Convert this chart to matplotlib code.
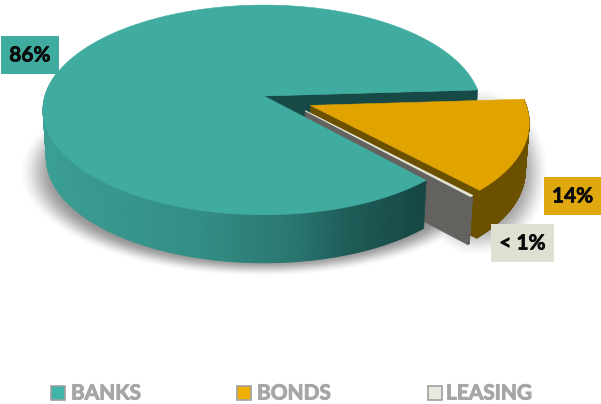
import numpy as np
import matplotlib
matplotlib.use("Agg")
import matplotlib.pyplot as plt
from matplotlib.patches import Polygon, Rectangle
from matplotlib.patheffects import withStroke

# Funding mix
categories = ["BANKS", "BONDS", "LEASING"]
shares = [86, 14, 0.2]
value_labels = ["86%", "14%", "< 1%"]

TEAL, GOLD, PALE = "#3fac9f", "#e0a300", "#e6e6d8"
BROWN, GREY, DARK_TEAL = "#6b5000", "#64625f", "#174a47"

W, H = 601, 404
CX, CY, RX, RY, PERSP = 264, 96, 219, 103, 0.133
DEPTH, BOTTOM_SCALE = 48, 0.985
START_DEG = -3.4
RIGHT_TUCK = 0.015


def project(u, v):
    """Disk coordinates to pixels, with a perspective that enlarges the near side."""
    u = np.asarray(u, dtype=float)
    u = u * (1 - RIGHT_TUCK * np.clip(u, 0, None))
    f = 1 / (1 - PERSP * np.asarray(v))
    return CX + RX * u * f, CY + RY * np.asarray(v) * f


def lower(x, y):
    """Matching point on the bottom face of the disk."""
    return CX + (np.asarray(x) - CX) * BOTTOM_SCALE, np.asarray(y) + DEPTH


def wedge_outline(a0, a1, offset=(0, 0), radius=1.0, n=160):
    t = np.radians(np.linspace(a0, a1, n))
    u = np.r_[offset[0], offset[0] + radius * np.cos(t)]
    v = np.r_[offset[1], offset[1] + radius * np.sin(t)]
    return project(u, v)


def wall(ax, apex, rim, color, z):
    ax_, ay_ = apex
    rx_, ry_ = rim
    bx0, by0 = lower(ax_, ay_)
    bx1, by1 = lower(rx_, ry_)
    ax.add_patch(Polygon([(ax_, ay_), (rx_, ry_), (bx1, by1), (bx0, by0)],
                         fc=color, ec=color, lw=0.4, zorder=z))


def side(ax, x, y, colors, z):
    bx, by = lower(x, y)
    for i in range(len(x) - 1):
        c = colors if isinstance(colors, str) else colors[i]
        ax.add_patch(Polygon([(x[i], y[i]), (x[i + 1], y[i + 1]),
                              (bx[i + 1], by[i + 1]), (bx[i], by[i])],
                             fc=c, ec=c, lw=0.6, zorder=z))


def side_shade(x):
    stops_x = [45, 200, 300, 350, 420, 480]
    stops = np.array([[0x3b, 0x9f, 0x93], [0x33, 0x8e, 0x85], [0x29, 0x74, 0x6e],
                      [0x1e, 0x5c, 0x58], [0x16, 0x48, 0x45], [0x16, 0x48, 0x45]]) / 255
    return [tuple(np.interp(v, stops_x, stops[:, k]) for k in range(3)) for v in x]


def soft_shadow(ax):
    yy, xx = np.mgrid[0:H, 0:W] + 0.5
    def blob(cx, cy, rx, ry, strength, width):
        d = np.sqrt(((xx - cx) / rx) ** 2 + ((yy - cy) / ry) ** 2)
        s = np.clip((1 - d) / width, 0, 1)
        return strength * s * s * (3 - 2 * s)
    alpha = np.maximum(blob(262, 172, 244, 105, 0.42, 0.16),
                       blob(478, 172, 72, 86, 0.36, 0.42))
    rgba = np.zeros((H, W, 4))
    rgba[..., 3] = alpha
    ax.imshow(rgba, extent=(0, W, H, 0), aspect="auto", zorder=0, interpolation="bilinear")


fig = plt.figure(figsize=(W / 100, H / 100), dpi=100)
ax = fig.add_axes([0, 0, 1, 1])
soft_shadow(ax)
ax.set_xlim(0, W)
ax.set_ylim(H, 0)
ax.axis("off")

spans = 360 * np.array(shares) / sum(shares)
bonds_a0, bonds_a1 = START_DEG, START_DEG + spans[1]
lease_a0, lease_a1 = bonds_a1, bonds_a1 + spans[2]
banks_a0, banks_a1 = lease_a1, lease_a1 + spans[0]

bonds_off = (0.21, 0.09)
lease_off = (0.185, 0.14)

# Back wall of the large slice, seen through the gap
bx, by = wedge_outline(banks_a1, banks_a1, n=1)
wall(ax, (bx[0], by[0]), (bx[1], by[1]), DARK_TEAL, 1)

# Bonds slice
x, y = wedge_outline(bonds_a0, bonds_a1, bonds_off, radius=0.995)
side(ax, x[1:], y[1:], BROWN, 2)
wall(ax, (x[0], y[0]), (x[-1], y[-1]), BROWN, 2)
ax.add_patch(Polygon(np.c_[x, y], fc=GOLD, ec=GOLD, lw=0.4, zorder=3))

# Leasing slice
x, y = wedge_outline(lease_a0, lease_a1, lease_off, radius=0.98, n=12)
side(ax, x[1:], y[1:], GREY, 4)
wall(ax, (x[0], y[0]), (x[-1], y[-1]), GREY, 4)
ax.add_patch(Polygon(np.c_[x, y], fc=PALE, ec=PALE, lw=0.7, zorder=5))

# Banks slice: only the near part of the outer wall can be seen
x, y = wedge_outline(banks_a0, banks_a1, n=420)
rim_angles = np.linspace(banks_a0, banks_a1, 420)
near = rim_angles < 195
side(ax, x[1:][near], y[1:][near], side_shade(x[1:][near]), 6)
ax.add_patch(Polygon(np.c_[x, y], fc=TEAL, ec=TEAL, lw=0.4, zorder=7))

# Value tags
tag_font = ["Lato", "DejaVu Sans"]
tags = [(1, 36, 58, 38, TEAL, 30),
        (544, 177, 57, 38, "#e0a80f", 572.5),
        (491, 224, 63, 38, "#dfe0d2", 522.5)]
for (tx, ty, tw, th, tc, mid), text in zip(tags, value_labels):
    ax.add_patch(Rectangle((tx, ty), tw, th, fc=tc, ec="none", zorder=8))
    ax.text(mid, ty + th / 2 + 0.5, text, ha="center", va="center", fontsize=15,
            fontweight="bold", family=tag_font, color="#0a0a0a", zorder=9,
            path_effects=[withStroke(linewidth=0.5, foreground="#0a0a0a")])

# Legend
swatch_x = [51, 237, 428]
label_x = [71, 257, 446]
swatch_colors = ["#3fb5aa", "#f0b000", "#e8eadf"]
for sx, lx, sc, name in zip(swatch_x, label_x, swatch_colors, categories):
    ax.add_patch(Rectangle((sx, 386), 14, 14, fc=sc, ec="#a0a0a0", lw=1.2, zorder=8))
    ax.text(lx, 393.5, name, ha="left", va="center", fontsize=15, fontweight="bold",
            family=tag_font, color="#a6a6a6", zorder=9,
            path_effects=[withStroke(linewidth=0.7, foreground="#a6a6a6")])

fig.savefig("out.png", dpi=100, facecolor="white")
